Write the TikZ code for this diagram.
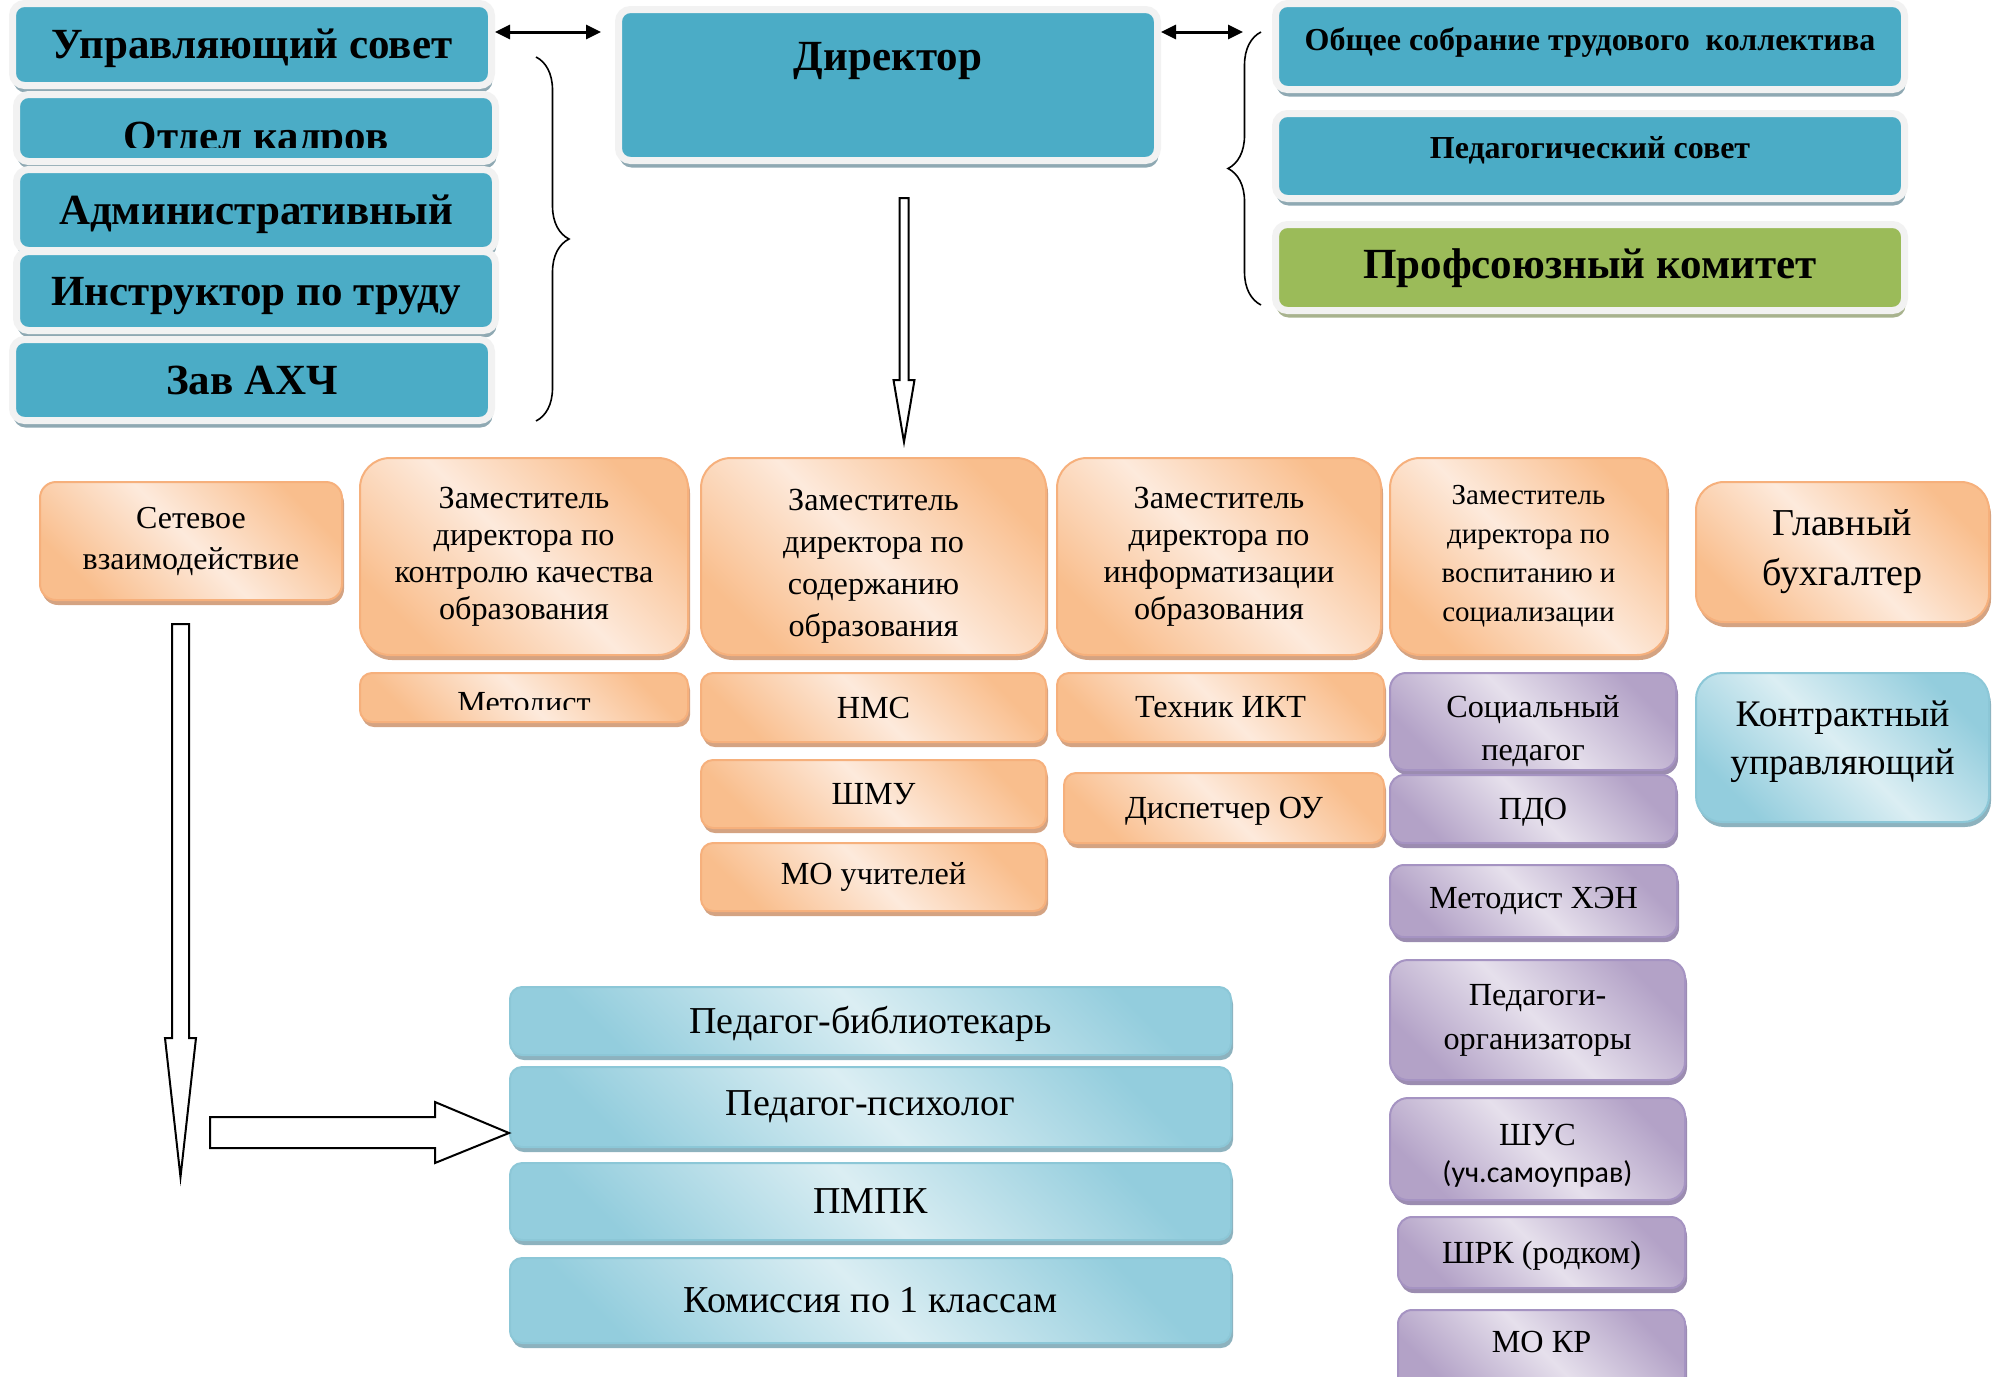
\documentclass[tikz,border=0pt]{standalone}
\usepackage{fontspec}
\setmainfont{Liberation Serif}
\newfontfamily\calibri{Carlito}
\usetikzlibrary{arrows.meta,shadows,decorations.pathreplacing}

\definecolor{aqua}{HTML}{4BACC6}
\definecolor{rimgray}{HTML}{F2F2F2}
\definecolor{aquash}{HTML}{8FA9B3}
\definecolor{leaf}{HTML}{9BBB59}
\definecolor{leafsh}{HTML}{A8B38E}
\definecolor{peachdk}{HTML}{F9BE8D}
\definecolor{peachlt}{HTML}{FDEADC}
\definecolor{peachln}{HTML}{F6B07C}
\definecolor{peachsh}{HTML}{D4A382}
\definecolor{lilacdk}{HTML}{B3A2C7}
\definecolor{lilaclt}{HTML}{E6E0EC}
\definecolor{lilacln}{HTML}{A593C2}
\definecolor{lilacsh}{HTML}{9B8CB0}
\definecolor{icedk}{HTML}{93CDDD}
\definecolor{icelt}{HTML}{DBEEF3}
\definecolor{iceln}{HTML}{8CC7D7}
\definecolor{icesh}{HTML}{8DB2BE}

\tikzset{
  toptext/.style={inner sep=0pt, font=\bfseries\fontsize{43}{50}\selectfont},
  topbox/.style={toptext, draw=rimgray, line width=7pt, fill=aqua, rounded corners=12pt,
    text height=28.5pt, text depth=0pt,
    drop shadow={shadow xshift=1pt, shadow yshift=-7pt, fill=#1, opacity=1}},
  topbox/.default=aquash,
  softtext/.style={inner sep=0pt, align=center, font=\fontsize{32.2}{37}\selectfont},
  softbox/.style={softtext, line width=2pt, rounded corners=#1},
  capfit/.style={text height=#1, text depth=0pt},
  capfit/.default=21.3pt,
  peach/.style={softbox=#1, draw=peachln, left color=peachdk, right color=peachdk,
    middle color=peachlt, shading angle=135,
    drop shadow={shadow xshift=2pt, shadow yshift=-5pt, fill=peachsh, opacity=1}},
  peach/.default=12pt,
  lilac/.style={softbox=#1, draw=lilacln, left color=lilacdk, right color=lilacdk,
    middle color=lilaclt, shading angle=135,
    drop shadow={shadow xshift=2pt, shadow yshift=-5pt, fill=lilacsh, opacity=1}},
  lilac/.default=14pt,
  ice/.style={softbox=#1, draw=iceln, left color=icedk, right color=icedk,
    middle color=icelt, shading angle=135,
    drop shadow={shadow xshift=2pt, shadow yshift=-5pt, fill=icesh, opacity=1}},
  ice/.default=12pt,
  dblarrow/.style={{Triangle[length=15pt,width=14pt]}-{Triangle[length=15pt,width=14pt]}, line width=3pt},
  brc/.style={decorate, decoration={brace, amplitude=33pt}, line width=1.6pt},
  hollow/.style={draw=black, fill=white, line width=2pt, line join=miter}
}

\begin{document}
\begin{tikzpicture}[x=1pt,y=-1pt]
\useasboundingbox (0,0) rectangle (2004,1376);

\node[topbox, minimum width=479pt, minimum height=82pt] (uprs) at (252,44.5) {Управляющий совет};
\node[topbox, minimum width=479pt, minimum height=67pt] (otdel) at (256,128) {};
\begin{scope}
\clip (10,90) rectangle (500,147);
\node[toptext, anchor=base] (otdeltxt) at (256,150) {Отдел кадров};
\end{scope}
\node[topbox, minimum width=479pt, minimum height=81pt] (admin) at (256,210) {Административный};
\node[topbox, minimum width=479pt, minimum height=79pt] (instr) at (256,291) {Инструктор по труду};
\node[topbox, minimum width=479pt, minimum height=81pt] (zavahch) at (252,380) {Зав АХЧ};

\node[topbox, minimum width=539pt, minimum height=151pt, text depth=58.5pt] (dir) at (888,85) {Директор};

\node[topbox, minimum width=629pt, minimum height=86pt, font=\bfseries\fontsize{32}{40}\selectfont,
  text height=21.2pt, text depth=14.2pt] (sobr) at (1590,46.5) {Общее собрание трудового \ коллектива};
\node[topbox, minimum width=629pt, minimum height=85pt, font=\bfseries\fontsize{32}{40}\selectfont,
  text height=21.2pt, text depth=17.2pt] (pedsovet) at (1590,156) {Педагогический совет};
\node[topbox=leafsh, fill=leaf, minimum width=629pt, minimum height=86pt, text depth=7.5pt] (prof) at (1590,267.5) {Профсоюзный комитет};

\draw[dblarrow, shorten >=14pt] (uprs.east |- 0,32) -- (dir.west |- 0,32);
\draw[dblarrow, shorten >=29pt] (dir.east |- 0,32) -- (sobr.west |- 0,32);
\draw[brc] (536,57) -- (536,421);
\draw[brc] (1261,305) -- (1261,32);
\draw[hollow] (899.5,198) -- (908.5,198) -- (908.5,380) -- (914.5,380) -- (904,442) -- (893.5,380) -- (899.5,380) -- cycle;

\node[peach=16pt, minimum width=302pt, minimum height=118pt, font=\fontsize{32}{41}\selectfont] (setev) at (191,541) {Сетевое\\взаимодействие};
\node[peach=30pt, minimum width=328pt, minimum height=197pt] (zamkach) at (524,556.5) {Заместитель\\директора по\\контролю качества\\образования};
\node[peach=30pt, minimum width=345pt, minimum height=197pt, font=\fontsize{32.2}{42}\selectfont] (zamsod) at (873.5,556.5) {\rule{0pt}{41pt}Заместитель\\директора по\\содержанию\\образования};
\node[peach=30pt, minimum width=324pt, minimum height=197pt] (zaminf) at (1219,556.5) {Заместитель\\директора по\\информатизации\\образования};
\node[peach=30pt, minimum width=277pt, minimum height=197pt, font=\fontsize{29}{39}\selectfont] (zamvosp) at (1528.5,556.5) {Заместитель\\директора по\\воспитанию и\\социализации};
\node[peach=28pt, minimum width=293pt, minimum height=140pt, font=\fontsize{38}{50}\selectfont] (buh) at (1842.5,552) {Главный\\бухгалтер};

\node[peach, minimum width=328pt, minimum height=49pt] (metod) at (524,697.5) {};
\begin{scope}
\clip (360,680) rectangle (690,709);
\node[softtext, anchor=base] (metodtxt) at (524,713) {Методист};
\end{scope}
\node[peach, minimum width=345pt, minimum height=69pt] (nms) at (873.5,707.5) {НМС};
\node[peach, minimum width=327pt, minimum height=69pt] (tehnik) at (1220.5,707.5) {Техник ИКТ};
\node[peach, minimum width=345pt, minimum height=68pt] (shmu) at (873.5,794) {ШМУ};
\node[peach, capfit, minimum width=320pt, minimum height=70pt] (disp) at (1224,808) {Диспетчер ОУ};
\node[peach, minimum width=345pt, minimum height=68pt] (mouch) at (873.5,877) {МО учителей};

\node[lilac=16pt, minimum width=286pt, minimum height=97pt, font=\fontsize{32.2}{43}\selectfont] (socped) at (1533,721.5) {\rule{0pt}{42pt}Социальный\\педагог};
\node[lilac, capfit, minimum width=286pt, minimum height=68pt] (pdo) at (1533,809) {ПДО};
\node[lilac, minimum width=287pt, minimum height=72pt] (metxen) at (1533.5,901) {Методист ХЭН};
\node[lilac=18pt, minimum width=295pt, minimum height=120pt, font=\fontsize{32.2}{44}\selectfont] (pedorg) at (1537.5,1020) {Педагоги-\\организаторы};
\node[lilac=18pt, minimum width=295pt, minimum height=102pt, font=\fontsize{32.2}{37}\selectfont] (shus) at (1537.5,1149) {\rule{0pt}{35pt}ШУС\\{\calibri\fontsize{30}{37}\selectfont (уч.самоуправ)}};
\node[lilac, capfit, minimum width=287pt, minimum height=71pt] (shrk) at (1541.5,1252.5) {ШРК (родком)};
\node[lilac, minimum width=287pt, minimum height=80pt] (mokr) at (1541.5,1350) {};
\node[softtext, anchor=base] (mokrtxt) at (1541.5,1352) {МО КР};

\node[ice=26pt, minimum width=293pt, minimum height=149pt] (kontr) at (1842.5,747.5) {};
\node[softtext, font=\fontsize{37.5}{48}\selectfont] (kontrtxt) at (1842.5,742) {Контрактный\\управляющий};

\node[ice, capfit=25.2pt, minimum width=721pt, minimum height=68pt, font=\fontsize{38}{44}\selectfont] (biblio) at (870.5,1021) {Педагог-библиотекарь};
\node[ice, minimum width=721pt, minimum height=80pt, font=\fontsize{38}{44}\selectfont] (psych) at (870.5,1107) {Педагог-психолог};
\node[ice, minimum width=721pt, minimum height=77pt, font=\fontsize{38}{44}\selectfont] (pmpk) at (870.5,1201.5) {ПМПК};
\node[ice, minimum width=721pt, minimum height=85pt, font=\fontsize{38}{44}\selectfont] (komis) at (870.5,1300.5) {Комиссия по 1 классам};

\draw[hollow] (172,624) -- (189,624) -- (189,1038) -- (196,1038) -- (180.5,1177) -- (165,1038) -- (172,1038) -- cycle;
\draw[hollow] (210,1117) -- (435,1117) -- (435,1102) -- (psych.west |- 0,1133) -- (435,1163) -- (435,1148) -- (210,1148) -- cycle;
\end{tikzpicture}
\end{document}
